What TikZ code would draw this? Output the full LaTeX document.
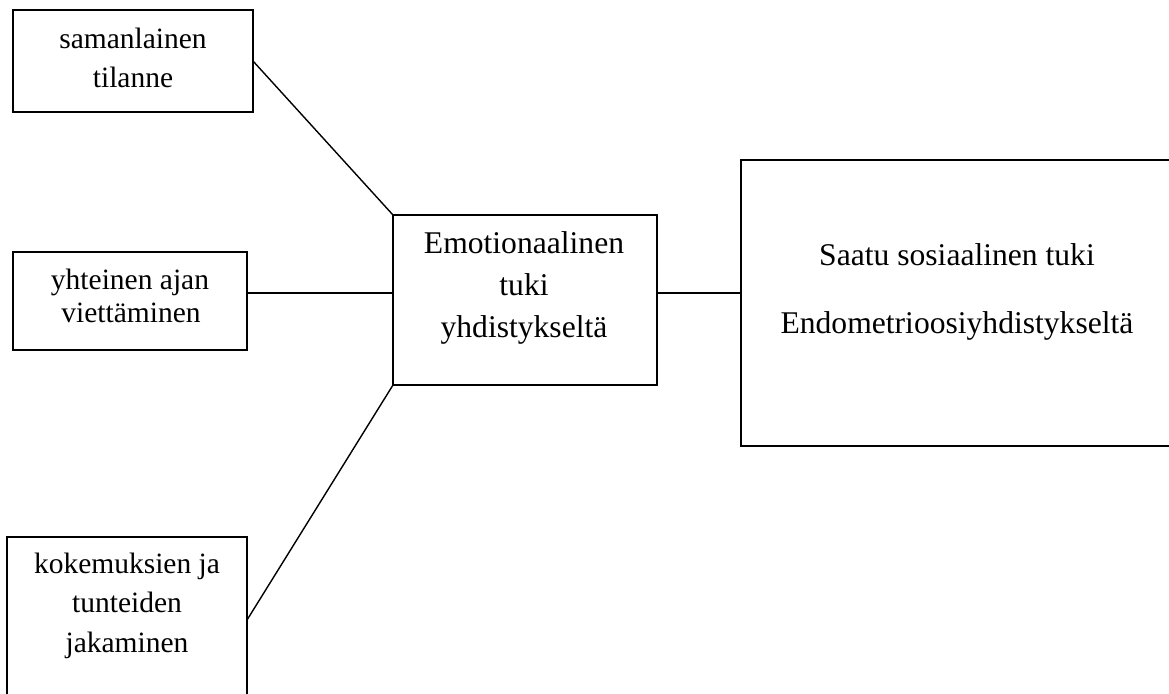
\documentclass[tikz,border=0pt]{standalone}
\usepackage{fontspec}
\setmainfont{Liberation Serif}
\begin{document}
\begin{tikzpicture}[x=0.5pt,y=-0.5pt,
  box/.style={draw,line width=0.7pt,rectangle,inner sep=0pt,outer sep=0pt},
  small/.style={anchor=base,inner sep=0pt,font=\fontsize{14.75}{17}\selectfont},
  large/.style={anchor=base,inner sep=0pt,font=\fontsize{15.8}{19}\selectfont},
  link/.style={line width=0.7pt}]
\useasboundingbox (0,0) rectangle (1169,693);
\clip (0,0) rectangle (1169,693);
% boxes
\node[box,minimum width=120pt,minimum height=51pt] (A) at (133,61) {};
\node[box,minimum width=117pt,minimum height=49pt] (B) at (130,301) {};
\node[box,minimum width=120pt,minimum height=91.5pt] (C) at (127,628.5) {};
\node[box,minimum width=132pt,minimum height=85pt] (E) at (525,300) {};
\node[box,minimum width=224.5pt,minimum height=143pt] (R) at (965.5,303) {};
% texts
\node[small] (a1) at (133,48) {samanlainen};
\node[small] (a2) at (133,87) {tilanne};
\node[small] (b1) at (130,289) {yhteinen ajan};
\node[small] (b2) at (131,322) {viettäminen};
\node[small] (c1) at (127,573) {kokemuksien ja};
\node[small] (c2) at (127,612) {tunteiden};
\node[small] (c3) at (127,652) {jakaminen};
\node[large] (e1) at (524,253) {Emotionaalinen};
\node[large] (e2) at (524,295) {tuki};
\node[large] (e3) at (524,337) {yhdistykseltä};
\node[large] (r1) at (957,265) {Saatu sosiaalinen tuki};
\node[large] (r2) at (957,333) {Endometrioosiyhdistykseltä};
% connectors
\draw[link] (A.east) -- (E.north west);
\draw[link] ([yshift=4pt]B.east) -- ([yshift=4pt]B.east -| E.west);
\draw[link] ([yshift=4.25pt]C.east) -- (E.south west);
\draw[link] ([yshift=3.5pt]E.east) -- ([yshift=3.5pt]E.east -| R.west);
\end{tikzpicture}
\end{document}
